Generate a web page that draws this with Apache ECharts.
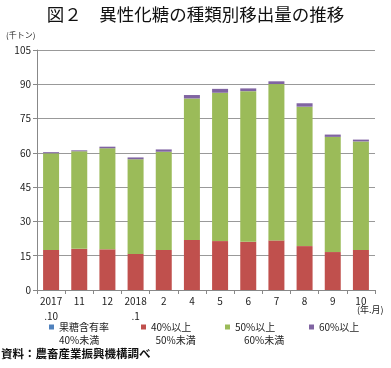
<!DOCTYPE html>
<html><head><meta charset="utf-8">
<script src="https://cdn.jsdelivr.net/npm/echarts@6/dist/echarts.min.js"></script>
<style>html,body{margin:0;padding:0;background:#fff}#c{width:391px;height:368px}</style>
</head><body><div id="c"></div>
<script>
const categories = ["2017\n.10","11","12","2018\n.1","2","4","5","6","7","8","9","10"];
const under40 = [0,0,0,0,0,0,0,0,0,0,0,0];
const from40to50 = [17.5,18.0,17.8,15.8,17.5,21.9,21.4,21.1,21.7,19.2,16.6,17.5];
const from50to60 = [42.3,42.7,44.2,41.4,43.0,61.9,64.9,65.9,68.4,61.0,50.4,47.5];
const over60 = [0.5,0.4,0.7,0.8,1.0,1.5,1.7,1.2,1.2,1.5,1.0,0.8];
const seriesNames = ["果糖含有率\n40%未満","40%以上\n  50%未満","50%以上\n    60%未満","60%以上"];
const yTicks = [0,15,30,45,60,75,90,105];

const font = '"Noto Sans CJK JP", "Noto Sans", sans-serif';
const colors = ["#4F81BD","#C0504D","#9BBB59","#8064A2"];
const dataSets = [under40, from40to50, from50to60, over60];
const legendLeft = [49, 141, 225, 309];

const chart = echarts.init(document.getElementById('c'), null, {renderer:'canvas'});
chart.setOption({
  animation:false,
  textStyle:{fontFamily:font},
  title:{text:"図２　異性化糖の種類別移出量の推移", left:'center', top:1,
    textStyle:{fontFamily:font, fontSize:17.5, fontWeight:'normal', color:'#111'}},
  grid:{left:37, right:16, top:50, bottom:78},
  xAxis:{type:'category', data:categories,
    axisLine:{lineStyle:{color:'#888'}},
    axisTick:{show:true, inside:false, length:4, lineStyle:{color:'#888'}},
    axisLabel:{color:'#222', fontSize:10, lineHeight:15, margin:4, interval:0, fontFamily:font}},
  yAxis:{type:'value', min:0, max:105, interval:15,
    axisLine:{show:true, lineStyle:{color:'#888'}},
    axisTick:{show:true, length:4, lineStyle:{color:'#888'}},
    splitLine:{lineStyle:{color:'#999', width:1}},
    axisLabel:{color:'#222', fontSize:10, margin:6, fontFamily:font,
      formatter:v=> yTicks.includes(v) ? String(v) : ''}},
  legend: seriesNames.map((n,i)=>({
    data:[n], left:legendLeft[i], top: i===3 ? 320.5 : 307.5, icon:'rect', itemWidth:5, itemHeight:5, itemGap:0,
    selectedMode:false, padding:0,
    formatter: i===3 ? undefined : (name => ' \n' + name),
    textStyle:{fontSize:10, color:'#222', fontFamily:font, lineHeight:13}
  })),
  graphic:[
    {type:'text', left:6, top:31, style:{text:'(千トン)', fontSize:8, fill:'#222', fontFamily:font}},
    {type:'text', left:357, top:305, style:{text:'(年.月)', fontSize:9, fill:'#222', fontFamily:font}},
    {type:'text', left:1, top:348, style:{text:'資料：農畜産業振興機構調べ', fontSize:11.5, fontWeight:'bold', fill:'#111', fontFamily:font}}
  ],
  series: seriesNames.map((n,i)=>({
    name:n, type:'bar', stack:'total', data:dataSets[i], barWidth:16,
    itemStyle:{color:colors[i]}
  }))
});
</script></body></html>
